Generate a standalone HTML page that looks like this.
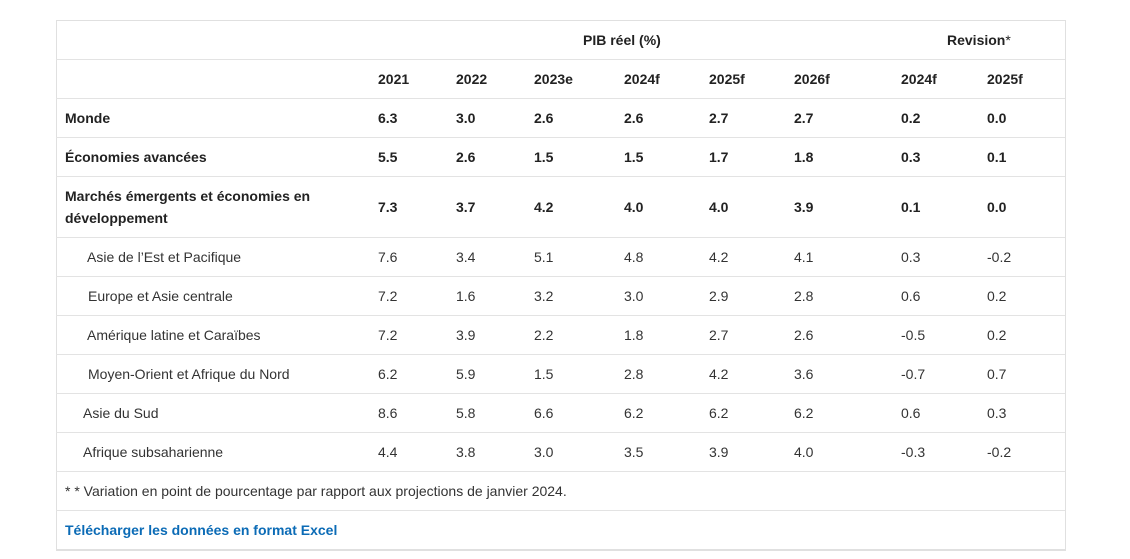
<!DOCTYPE html>
<html><head><meta charset="utf-8">
<style>
html,body{margin:0;padding:0;background:#fff;}
body{width:1130px;height:559px;position:relative;overflow:hidden;font-family:"Liberation Sans",Arial,sans-serif;font-size:14px;color:#333;}
.box{position:absolute;left:56px;top:20px;width:1008px;height:528px;border:1px solid #e0e0e0;border-bottom:2px solid #e0e0e0;}
.hl{position:absolute;left:56px;width:1009px;height:1px;background:#e3e3e3;}
.t{position:absolute;white-space:nowrap;line-height:16px;}
.b{font-weight:bold;color:#222;}
a{color:#0b6bb6;font-weight:bold;text-decoration:none;}
</style></head><body>
<div class="box"></div>
<div class="hl" style="top:59px"></div>
<div class="hl" style="top:98px"></div>
<div class="hl" style="top:137px"></div>
<div class="hl" style="top:176px"></div>
<div class="hl" style="top:237px"></div>
<div class="hl" style="top:276px"></div>
<div class="hl" style="top:315px"></div>
<div class="hl" style="top:354px"></div>
<div class="hl" style="top:393px"></div>
<div class="hl" style="top:432px"></div>
<div class="hl" style="top:471px"></div>
<div class="hl" style="top:510px"></div>

<!-- header row 1 -->
<div class="t b" style="left:583px;top:32px">PIB réel (%)</div>
<div class="t b" style="left:947px;top:32px">Revision<span style="font-weight:normal">*</span></div>

<!-- header row 2 -->
<div class="t b" style="left:378px;top:71px">2021</div>
<div class="t b" style="left:456px;top:71px">2022</div>
<div class="t b" style="left:534px;top:71px">2023e</div>
<div class="t b" style="left:624px;top:71px">2024f</div>
<div class="t b" style="left:709px;top:71px">2025f</div>
<div class="t b" style="left:794px;top:71px">2026f</div>
<div class="t b" style="left:901px;top:71px">2024f</div>
<div class="t b" style="left:987px;top:71px">2025f</div>

<!-- Monde -->
<div class="t b" style="left:65px;top:110px">Monde</div>
<div class="t b" style="left:378px;top:110px">6.3</div>
<div class="t b" style="left:456px;top:110px">3.0</div>
<div class="t b" style="left:534px;top:110px">2.6</div>
<div class="t b" style="left:624px;top:110px">2.6</div>
<div class="t b" style="left:709px;top:110px">2.7</div>
<div class="t b" style="left:794px;top:110px">2.7</div>
<div class="t b" style="left:901px;top:110px">0.2</div>
<div class="t b" style="left:987px;top:110px">0.0</div>

<!-- Economies avancees -->
<div class="t b" style="left:65px;top:149px">Économies avancées</div>
<div class="t b" style="left:378px;top:149px">5.5</div>
<div class="t b" style="left:456px;top:149px">2.6</div>
<div class="t b" style="left:534px;top:149px">1.5</div>
<div class="t b" style="left:624px;top:149px">1.5</div>
<div class="t b" style="left:709px;top:149px">1.7</div>
<div class="t b" style="left:794px;top:149px">1.8</div>
<div class="t b" style="left:901px;top:149px">0.3</div>
<div class="t b" style="left:987px;top:149px">0.1</div>

<!-- EMDE -->
<div class="t b" style="left:65px;top:188px;line-height:22px;top:185px">Marchés émergents et économies en<br>développement</div>
<div class="t b" style="left:378px;top:199px">7.3</div>
<div class="t b" style="left:456px;top:199px">3.7</div>
<div class="t b" style="left:534px;top:199px">4.2</div>
<div class="t b" style="left:624px;top:199px">4.0</div>
<div class="t b" style="left:709px;top:199px">4.0</div>
<div class="t b" style="left:794px;top:199px">3.9</div>
<div class="t b" style="left:901px;top:199px">0.1</div>
<div class="t b" style="left:987px;top:199px">0.0</div>

<!-- EAP -->
<div class="t" style="left:87px;top:249px">Asie de l’Est et Pacifique</div>
<div class="t" style="left:378px;top:249px">7.6</div>
<div class="t" style="left:456px;top:249px">3.4</div>
<div class="t" style="left:534px;top:249px">5.1</div>
<div class="t" style="left:624px;top:249px">4.8</div>
<div class="t" style="left:709px;top:249px">4.2</div>
<div class="t" style="left:794px;top:249px">4.1</div>
<div class="t" style="left:901px;top:249px">0.3</div>
<div class="t" style="left:987px;top:249px">-0.2</div>

<!-- ECA -->
<div class="t" style="left:88px;top:288px">Europe et Asie centrale</div>
<div class="t" style="left:378px;top:288px">7.2</div>
<div class="t" style="left:456px;top:288px">1.6</div>
<div class="t" style="left:534px;top:288px">3.2</div>
<div class="t" style="left:624px;top:288px">3.0</div>
<div class="t" style="left:709px;top:288px">2.9</div>
<div class="t" style="left:794px;top:288px">2.8</div>
<div class="t" style="left:901px;top:288px">0.6</div>
<div class="t" style="left:987px;top:288px">0.2</div>

<!-- LAC -->
<div class="t" style="left:87px;top:327px">Amérique latine et Caraïbes</div>
<div class="t" style="left:378px;top:327px">7.2</div>
<div class="t" style="left:456px;top:327px">3.9</div>
<div class="t" style="left:534px;top:327px">2.2</div>
<div class="t" style="left:624px;top:327px">1.8</div>
<div class="t" style="left:709px;top:327px">2.7</div>
<div class="t" style="left:794px;top:327px">2.6</div>
<div class="t" style="left:901px;top:327px">-0.5</div>
<div class="t" style="left:987px;top:327px">0.2</div>

<!-- MENA -->
<div class="t" style="left:88px;top:366px">Moyen-Orient et Afrique du Nord</div>
<div class="t" style="left:378px;top:366px">6.2</div>
<div class="t" style="left:456px;top:366px">5.9</div>
<div class="t" style="left:534px;top:366px">1.5</div>
<div class="t" style="left:624px;top:366px">2.8</div>
<div class="t" style="left:709px;top:366px">4.2</div>
<div class="t" style="left:794px;top:366px">3.6</div>
<div class="t" style="left:901px;top:366px">-0.7</div>
<div class="t" style="left:987px;top:366px">0.7</div>

<!-- SAR -->
<div class="t" style="left:83px;top:405px">Asie du Sud</div>
<div class="t" style="left:378px;top:405px">8.6</div>
<div class="t" style="left:456px;top:405px">5.8</div>
<div class="t" style="left:534px;top:405px">6.6</div>
<div class="t" style="left:624px;top:405px">6.2</div>
<div class="t" style="left:709px;top:405px">6.2</div>
<div class="t" style="left:794px;top:405px">6.2</div>
<div class="t" style="left:901px;top:405px">0.6</div>
<div class="t" style="left:987px;top:405px">0.3</div>

<!-- SSA -->
<div class="t" style="left:83px;top:444px">Afrique subsaharienne</div>
<div class="t" style="left:378px;top:444px">4.4</div>
<div class="t" style="left:456px;top:444px">3.8</div>
<div class="t" style="left:534px;top:444px">3.0</div>
<div class="t" style="left:624px;top:444px">3.5</div>
<div class="t" style="left:709px;top:444px">3.9</div>
<div class="t" style="left:794px;top:444px">4.0</div>
<div class="t" style="left:901px;top:444px">-0.3</div>
<div class="t" style="left:987px;top:444px">-0.2</div>

<!-- footnote -->
<div class="t" style="left:65px;top:483px">* * Variation en point de pourcentage par rapport aux projections de janvier 2024.</div>
<div class="t" style="left:65px;top:522px"><a>Télécharger les données en format Excel</a></div>
</body></html>
